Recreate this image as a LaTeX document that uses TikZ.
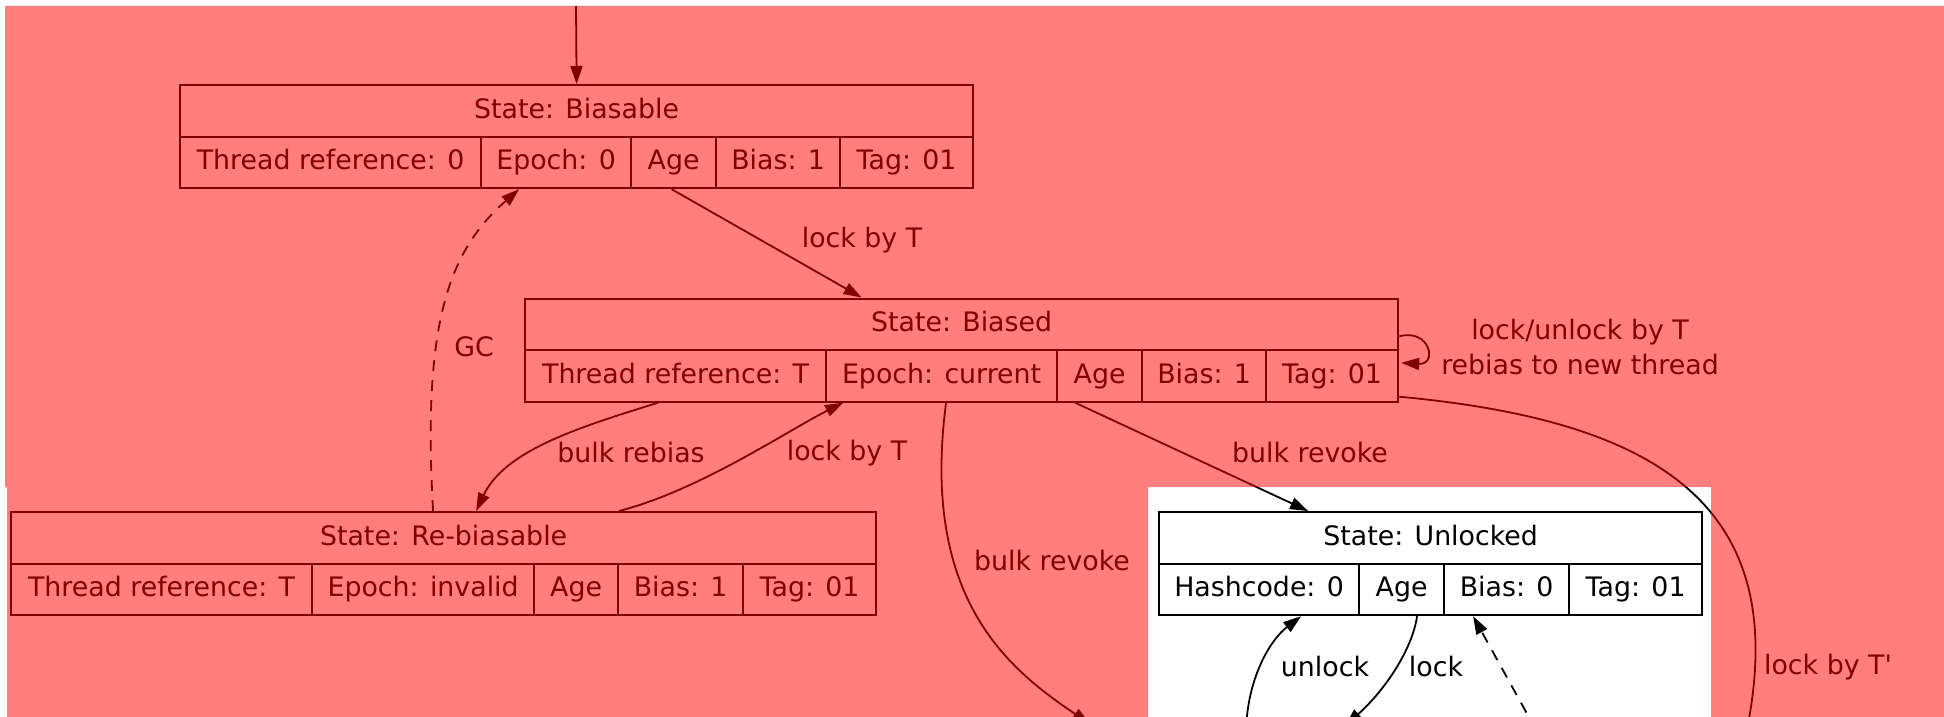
\documentclass[tikz,border=0pt]{standalone}
\usepackage{fontspec}
\setmainfont{DejaVu Sans}[Ligatures=TeXOff]
\usetikzlibrary{arrows.meta,calc}
\begin{document}
\begin{tikzpicture}[x=1pt,y=-1pt,
  txt/.style={font=\fontsize{26.8}{35}\selectfont},
  fld/.style={txt, draw, line width=2.2pt, minimum height=51.5pt, inner sep=0pt, anchor=north west, text height=20.5pt, text depth=6pt},
  conn/.style={line width=1.8pt, -{Triangle[length=18pt,width=12pt]}},
  lbl/.style={txt, inner sep=0pt, align=center},
  dsh/.style={dash pattern=on 11pt off 9pt}
]
\useasboundingbox (0,0) rectangle (1944,717);
\clip (0,0) rectangle (1944,717);
\fill[white] (0,0) rectangle (1944,717);

% State: Biasable
\node[fld, minimum width=793pt] (bsTitle) at (179,84) {State: Biasable};
\node[fld, minimum width=301pt] (bsThr) at (179,135.5) {Thread reference: 0};
\node[fld, minimum width=150pt] (bsEpoch) at (480,135.5) {Epoch: 0};
\node[fld, minimum width=85pt] (bsAge) at (630,135.5) {Age};
\node[fld, minimum width=124pt] (bsBias) at (715,135.5) {Bias: 1};
\node[fld, minimum width=133pt] (bsTag) at (839,135.5) {Tag: 01};

% State: Biased
\node[fld, minimum width=873pt] (bdTitle) at (524,297.5) {State: Biased};
\node[fld, minimum width=301pt] (bdThr) at (524,349) {Thread reference: T};
\node[fld, minimum width=231pt] (bdEpoch) at (825,349) {Epoch: current};
\node[fld, minimum width=85pt] (bdAge) at (1056,349) {Age};
\node[fld, minimum width=124pt] (bdBias) at (1141,349) {Bias: 1};
\node[fld, minimum width=132pt] (bdTag) at (1265,349) {Tag: 01};

% State: Re-biasable
\node[fld, minimum width=865pt] (rbTitle) at (10,511) {State: Re-biasable};
\node[fld, minimum width=301pt] (rbThr) at (10,562.5) {Thread reference: T};
\node[fld, minimum width=222pt] (rbEpoch) at (311,562.5) {Epoch: invalid};
\node[fld, minimum width=84pt] (rbAge) at (533,562.5) {Age};
\node[fld, minimum width=125pt] (rbBias) at (617,562.5) {Bias: 1};
\node[fld, minimum width=133pt] (rbTag) at (742,562.5) {Tag: 01};

% State: Unlocked
\node[fld, minimum width=543pt] (unTitle) at (1158,511) {State: Unlocked};
\node[fld, minimum width=200pt] (unHash) at (1158,562.5) {Hashcode: 0};
\node[fld, minimum width=85pt] (unAge) at (1358,562.5) {Age};
\node[fld, minimum width=125pt] (unBias) at (1443,562.5) {Bias: 0};
\node[fld, minimum width=133pt] (unTag) at (1568,562.5) {Tag: 01};

% free ends
\coordinate (entry) at (576,6);
\coordinate (revokeEnd) at (1090,724);
\coordinate (primeEnd) at (1745,740);
\coordinate (unlockStart) at (1246,735);
\coordinate (lockEnd) at (1345,726);
\coordinate (dashStart) at (1536,730);

% connectors
\draw[conn] (entry) -- (bsTitle.north);
\draw[conn] ($(bsAge.south)+(-2,0)$) -- ($(bdTitle.north)+(-100,0)$);
\draw[conn, dsh] ($(rbTitle.north)+(-10.5,0)$) .. controls (422,320) and (450,250) .. ($(bsEpoch.south)+(-37,0)$);
\draw[conn] ($(bdThr.south)+(-17.5,0)$) .. controls (580,427) and (505,450) .. ($(rbTitle.north)+(32.5,0)$);
\draw[conn] ($(rbTitle.north)+(175.5,0)$) .. controls (700,490) and (785,432) .. ($(bdEpoch.south)+(-98.5,0)$);
\draw[conn] ($(bdEpoch.south)+(4.5,0)$) .. controls (920,600) and (1010,670) .. (revokeEnd);
\draw[conn] ($(bdAge.south)+(-24.5,0)$) -- ($(unTitle.north)+(-122.5,0)$);
\draw[conn] ($(bdTag.south east)+(0,-6)$) .. controls (1650,420) and (1790,500) .. (primeEnd);
\draw[conn] ($(bdTitle.east)+(0,12)$) .. controls (1430,328) and (1438,365) .. ($(bdTag.east)+(2,-13)$);
\draw[conn] (unlockStart) .. controls (1246,680) and (1270,640) .. ($(unHash.south)+(42,0)$);
\draw[conn] ($(unAge.south)+(15.5,0)$) .. controls (1412,650) and (1385,690) .. (lockEnd);
\draw[conn, dsh] (dashStart) -- ($(unBias.south)+(-33.5,0)$);

% labels
\node[lbl] (l1) at (862,240) {lock by T};
\node[lbl] (l2) at (474,347) {GC};
\node[lbl] (l3) at (631,453) {bulk rebias};
\node[lbl] (l4) at (847,453) {lock by T};
\node[lbl] (l5) at (1052,561) {bulk revoke};
\node[lbl] (l6) at (1310,453) {bulk revoke};
\node[lbl] (l7) at (1828,667) {lock by T'};
\node[lbl] (l8) at (1580,347) {lock/unlock by T\\rebias to new thread};
\node[lbl] (l9) at (1325,667) {unlock};
\node[lbl] (l10) at (1436,667) {lock};

% red highlight overlay
\fill[red, fill opacity=0.5, even odd rule]
  (5,6) -- (1944,6) -- (1944,717) -- (7,717) -- (7,487) -- (5,487) -- cycle
  (1148,487) rectangle (1711,717);
\end{tikzpicture}
\end{document}
